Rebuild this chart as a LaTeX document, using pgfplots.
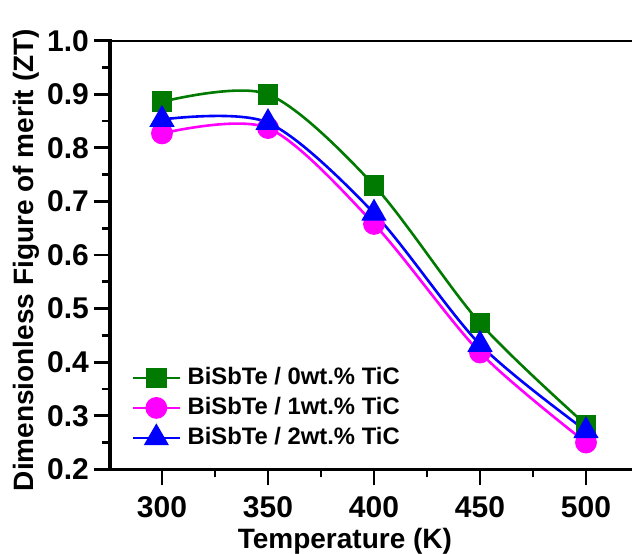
\documentclass[border=0pt]{standalone}
\usepackage{fontspec}
\setmainfont{Liberation Sans}
\usepackage{pgfplots}
\pgfplotsset{compat=1.18}
\definecolor{zgreen}{RGB}{0,122,0}
\definecolor{zmag}{RGB}{255,0,255}
\definecolor{zblue}{RGB}{0,0,255}
\begin{document}
\begin{tikzpicture}
\begin{axis}[
  scale only axis, width=261pt, height=214.3pt,
  xmin=275.47, xmax=521.7, ymin=0.2, ymax=1.0,
  axis lines*=left,
  axis line style={line width=1.6pt, line cap=rect},
  xtick={300,350,400,450,500},
  ytick={0.2,0.3,0.4,0.5,0.6,0.7,0.8,0.9,1.0},
  minor x tick num=1, minor y tick num=1,
  tick align=outside,
  major tick length=8pt, minor tick length=4pt,
  every tick/.style={line width=1.4pt, black},
  /pgf/number format/assume math mode=true,
  yticklabel style={/pgf/number format/fixed, /pgf/number format/fixed zerofill, /pgf/number format/precision=1, xshift=1pt},
  ticklabel style={font=\bfseries\fontsize{15}{17}\selectfont},
  xticklabel style={yshift=-2pt},
  xlabel={Temperature (K)},
  ylabel={Dimensionless Figure of merit (ZT)},
  label style={font=\bfseries\fontsize{14}{16}\selectfont},
  xlabel style={at={(rel axis cs:0.45,-0.168)}, anchor=center},
  ylabel style={at={(rel axis cs:-0.16,0.488)}, anchor=center},
  legend cell align=left,
  legend style={at={(rel axis cs:0.03,0.255)}, anchor=north west, draw=none, fill=none,
    font=\bfseries\fontsize{11.9}{14}\selectfont, row sep=1.5pt,
    nodes={inner sep=1pt, text height=9pt, text depth=2.5pt},
    /tikz/every odd column/.style={column sep=2.5pt}},
  legend image code/.code={\draw[mark repeat=2,mark phase=2] plot coordinates {(0pt,0pt)(11.5pt,0pt)(23pt,0pt)};},
]
\addplot[zgreen, line width=1.3pt, smooth, mark=square*, mark size=4.5pt, mark options={solid, fill=zgreen}]
  coordinates {(300,0.886) (350,0.900) (400,0.730) (450,0.473) (500,0.283)};
\addlegendentry{BiSbTe / 0wt.\% TiC}
\addplot[zmag, line width=1.3pt, smooth, mark=*, mark size=4.8pt, mark options={solid, fill=zmag}]
  coordinates {(300,0.827) (350,0.837) (400,0.658) (450,0.418) (500,0.250)};
\addlegendentry{BiSbTe / 1wt.\% TiC}
\addplot[zblue, line width=1.3pt, smooth, mark=triangle*, mark size=6pt, mark options={solid, fill=zblue}]
  coordinates {(300,0.853) (350,0.847) (400,0.678) (450,0.433) (500,0.272)};
\addlegendentry{BiSbTe / 2wt.\% TiC}
\draw[line width=1.6pt, line cap=rect] (rel axis cs:0,1) -- (rel axis cs:1,1);
\coordinate (BL) at (rel axis cs:-0.2107,-0.1953);
\coordinate (TR) at (rel axis cs:1,1.095);
\end{axis}
\pgfresetboundingbox
\path (BL) rectangle (TR);
\end{tikzpicture}
\end{document}
